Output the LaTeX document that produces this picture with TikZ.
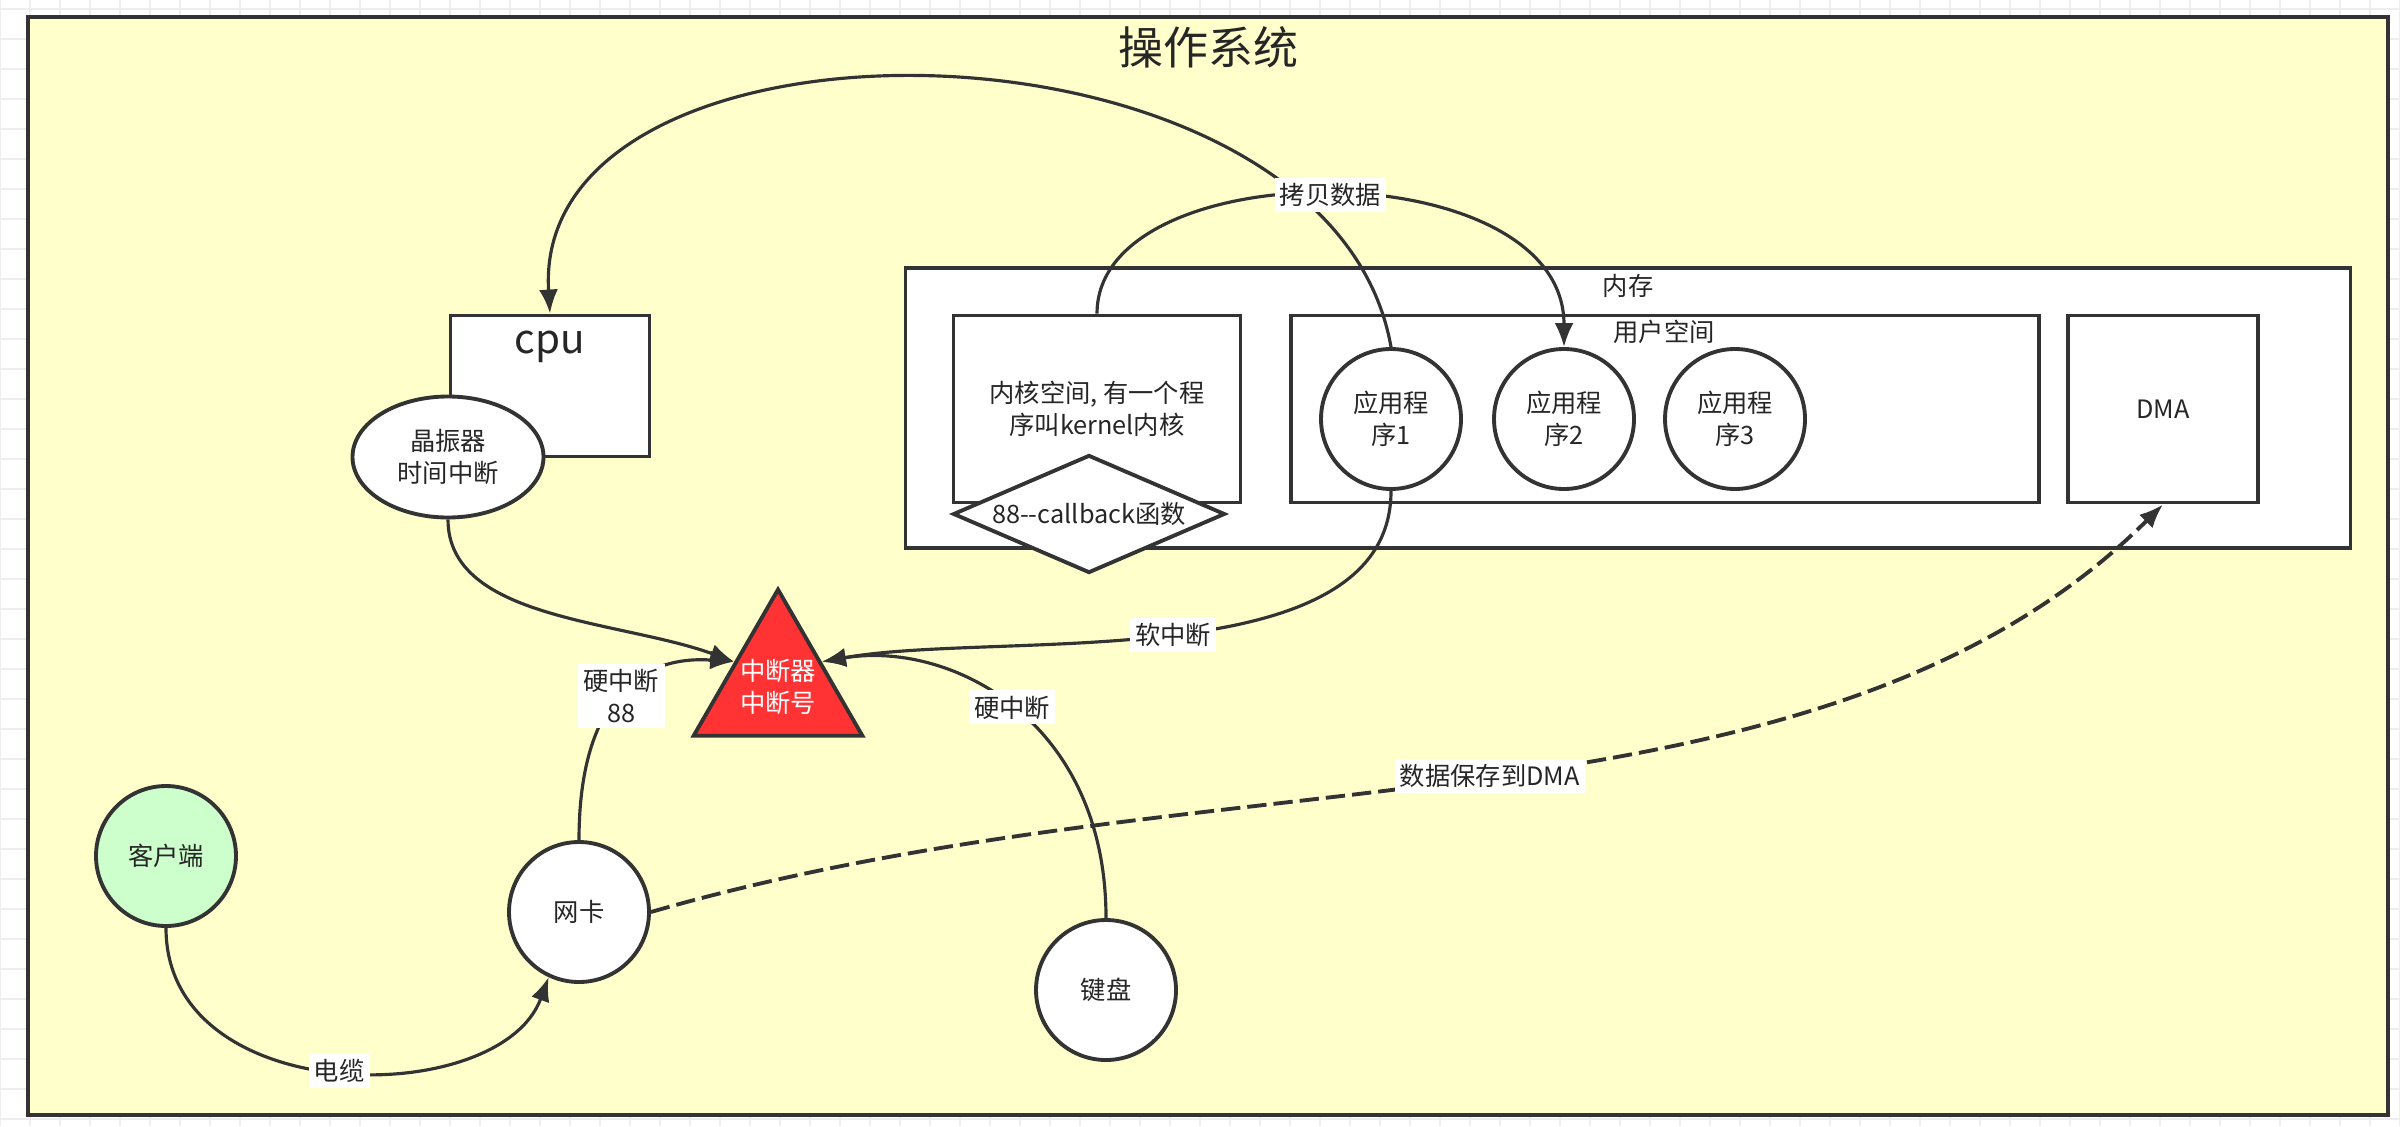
\documentclass[tikz,border=0pt]{standalone}
\usepackage{fontspec}
\setmainfont{Noto Sans CJK SC}
\usetikzlibrary{shapes.geometric,arrows.meta}
\definecolor{osyellow}{HTML}{FFFFCC}
\definecolor{linegray}{HTML}{333333}
\definecolor{intred}{HTML}{FF3333}
\definecolor{clientgreen}{HTML}{CCFFCC}
\definecolor{gridgray}{HTML}{EEEEEE}
\tikzset{
	gridline/.style={draw=gridgray, line width=0.55pt, step=0.3},
	osbox/.style={draw=linegray, line width=1.2pt, fill=osyellow, inner sep=0pt},
	box/.style={draw=linegray, line width=1.1pt, fill=white, inner sep=0pt, align=center, text=black!85, font=\fontsize{7.2}{9.2}\selectfont},
	blob/.style={box, ellipse},
	appnode/.style={blob, minimum width=1.40cm, minimum height=1.40cm},
	textonly/.style={inner sep=0pt, align=center, text=black!85, font=\fontsize{7.2}{9.2}\selectfont},
	bigtext/.style={inner sep=0pt, text=black!85, font=\fontsize{11.5}{13}\selectfont},
	lbl/.style={fill=white, inner sep=1.5pt, align=center, text=black!85, font=\fontsize{7.2}{9.2}\selectfont},
	wire/.style={draw=linegray, line width=0.9pt, -{Latex[length=0.24cm,width=0.19cm]}},
	dashwire/.style={wire, line width=1.1pt, dash pattern=on 5.5pt off 2pt}
}
\begin{document}
\begin{tikzpicture}
		\useasboundingbox (0,0) rectangle (24,-11.26);
		\draw[gridline, yshift=-0.09cm] (0,0.09) grid (24,-11.17);
		\node[osbox, minimum width=23.60cm, minimum height=10.98cm] (os) at (12.08,-5.66) {};
		\node[bigtext, font=\fontsize{12.8}{14}\selectfont] (ostitle) at (12.08,-0.47) {操作系统};
		\node[box, minimum width=14.45cm, minimum height=2.80cm] (mem) at (16.28,-4.08) {};
		\node[textonly] (memtitle) at (16.28,-2.86) {内存};
		\node[box, minimum width=2.87cm, minimum height=1.87cm] (kernel) at (10.97,-4.09) {内核空间, 有一个程\\序叫kernel内核};
		\node[box, minimum width=7.48cm, minimum height=1.87cm] (user) at (16.65,-4.09) {};
		\node[textonly] (usertitle) at (16.64,-3.32) {用户空间};
		\node[box, minimum width=1.90cm, minimum height=1.87cm] (dma) at (21.63,-4.09) {DMA};
		\node[appnode] (app1) at (13.91,-4.19) {应用程\\序1};
		\node[appnode] (app2) at (15.64,-4.19) {应用程\\序2};
		\node[appnode] (app3) at (17.35,-4.19) {应用程\\序3};
		\node[box, diamond, minimum width=2.72cm, minimum height=1.18cm] (cb) at (10.89,-5.14) {};
		\node[textonly] (cbtext) at (cb.center) {88-{}-callback函数};
		\node[box, minimum width=1.99cm, minimum height=1.41cm] (cpu) at (5.50,-3.86) {};
		\node[bigtext] (cputext) at (5.50,-3.47) {cpu};
		\node[blob, minimum width=1.91cm, minimum height=1.21cm] (osc) at (4.48,-4.57) {晶振器\\时间中断};
		\node[box, regular polygon, regular polygon sides=3, minimum size=1.84cm, inner sep=-1pt, fill=intred, text=white] (intr) at (7.78,-6.87) {中断器\\中断号};
		\node[appnode, fill=clientgreen] (client) at (1.66,-8.56) {客户端};
		\node[appnode] (nic) at (5.79,-9.12) {网卡};
		\node[appnode] (kbd) at (11.06,-9.90) {键盘};
		\draw[wire] (app1.north) .. controls (13.30,0.00) and (5.30,0.10) .. (cpu.north);
		\draw[wire] (kernel.north) .. controls (10.97,-1.50) and (15.64,-1.50) .. (app2.north) node[lbl, pos=0.5] (copylbl) {拷贝数据};
		\draw[wire] (osc.south) .. controls (4.48,-6.20) and (6.20,-6.20) .. (intr.side 1);
		\draw[wire] (nic.north) .. controls (5.79,-7.00) and (6.40,-6.55) .. (intr.side 1) node[lbl, pos=0.5] (hwlbl) {硬中断\\88};
		\draw[wire] (kbd.north) .. controls (11.06,-7.20) and (9.50,-6.40) .. (intr.side 3) node[lbl, pos=0.5] (kbdlbl) {硬中断};
		\draw[wire] (app1.south) .. controls (13.91,-6.80) and (10.00,-6.30) .. (intr.side 3) node[lbl, pos=0.5] (softlbl) {软中断};
		\draw[dashwire] (nic.east) .. controls (12.18,-7.48) and (18.17,-8.48) .. (dma.south) node[lbl, pos=0.5] (dmalbl) {数据保存到DMA};
		\draw[wire] (client.south) .. controls (1.66,-11.10) and (5.00,-11.10) .. (nic.-115) node[lbl, pos=0.5] (cablelbl) {电缆};
	\end{tikzpicture}
\end{document}
